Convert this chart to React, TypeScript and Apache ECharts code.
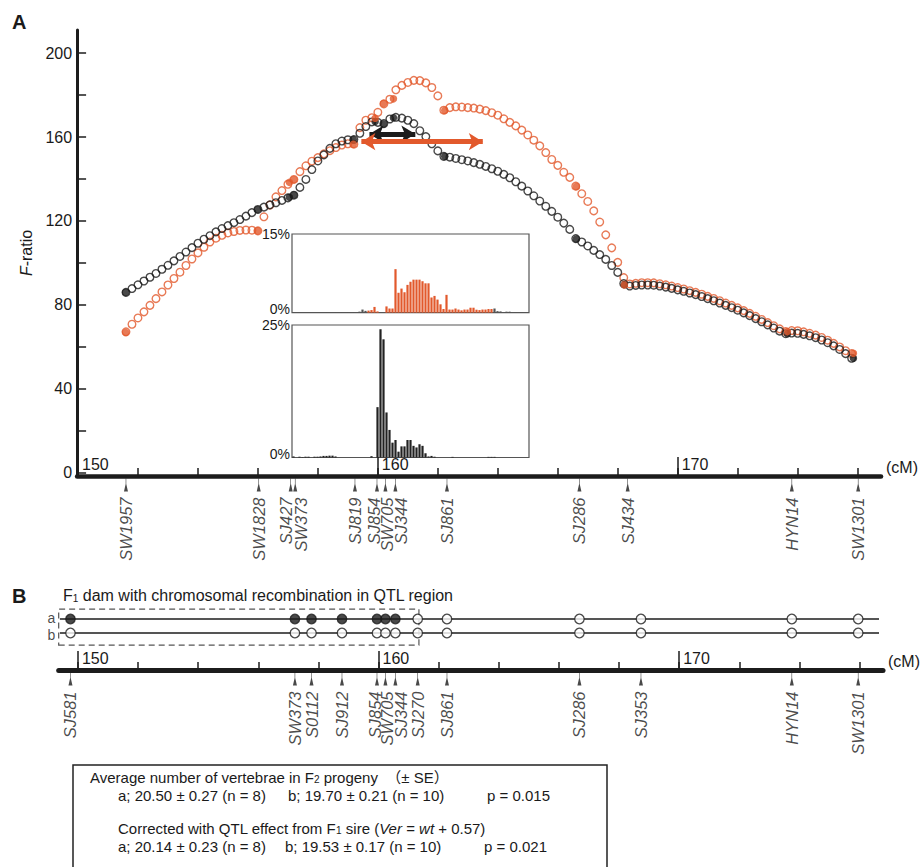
import React, { useEffect, useRef } from "react";
import * as echarts from "echarts";

// ---------- DATA ----------
// Panel A: F-ratio profile (cM position of each tested locus)
const lociCM = [
  151.6, 151.8, 152.0, 152.2, 152.4, 152.6, 152.8, 153.0, 153.2, 153.4, 153.6, 153.8, 154.0, 154.2, 154.4, 154.6,
  154.8, 155.0, 155.2, 155.4, 155.6, 155.8, 156.0, 156.2, 156.4, 156.6, 156.8, 157.0, 157.2, 157.4, 157.6, 157.8,
  158.0, 158.2, 158.4, 158.6, 158.8, 159.0, 159.2, 159.4, 159.6, 159.8, 160.0, 160.2, 160.4, 160.6, 160.8, 161.0,
  161.2, 161.4, 161.6, 161.8, 162.0, 162.2, 162.4, 162.6, 162.8, 163.0, 163.2, 163.4, 163.6, 163.8, 164.0, 164.2,
  164.4, 164.6, 164.8, 165.0, 165.2, 165.4, 165.6, 165.8, 166.0, 166.2, 166.4, 166.6, 166.8, 167.0, 167.2, 167.4,
  167.6, 167.8, 168.0, 168.2, 168.4, 168.6, 168.8, 169.0, 169.2, 169.4, 169.6, 169.8, 170.0, 170.2, 170.4, 170.6,
  170.8, 171.0, 171.2, 171.4, 171.6, 171.8, 172.0, 172.2, 172.4, 172.6, 172.8, 173.0, 173.2, 173.4, 173.6, 173.8,
  174.0, 174.2, 174.4, 174.6, 174.8, 175.0, 175.2, 175.4, 175.6, 175.8,
];
const fRatioBlack = [
  86.0, 87.8, 89.6, 91.4, 93.2, 95.0, 97.0, 98.9, 101.0, 103.1, 105.2, 107.3, 109.4, 111.3, 113.0, 114.8,
  116.4, 117.8, 119.2, 120.7, 122.3, 124.0, 125.5, 126.6, 127.7, 128.7, 129.8, 131.0, 132.3, 136.0, 139.8, 144.5,
  148.6, 151.5, 154.6, 156.8, 158.1, 158.7, 158.8, 161.8, 165.0, 167.2, 167.0, 166.4, 168.6, 169.4, 169.0, 168.0,
  166.4, 163.0, 160.2, 156.8, 153.4, 150.8, 150.4, 149.8, 149.2, 148.6, 147.8, 147.0, 146.0, 144.9, 143.7, 142.2,
  140.6, 138.7, 136.6, 134.3, 132.0, 129.5, 127.0, 124.6, 121.8, 119.0, 116.0, 111.6, 110.0, 108.1, 106.0, 104.0,
  101.7, 98.8, 95.5, 90.2, 89.0, 89.3, 89.5, 89.5, 89.4, 89.0, 88.5, 87.9, 87.2, 86.5, 85.7, 84.9,
  84.0, 83.0, 82.0, 80.9, 79.8, 78.7, 77.5, 76.2, 74.9, 73.5, 72.0, 70.5, 69.0, 67.5, 66.3, 66.6,
  66.5, 66.0, 65.3, 64.4, 63.3, 62.0, 60.5, 58.8, 56.8, 54.6,
];
const fRatioOrange = [
  67.2, 70.8, 73.8, 76.7, 79.8, 83.0, 86.2, 89.5, 92.6, 95.6, 98.8, 101.9, 104.8, 107.5, 110.0, 111.8,
  113.2, 114.3, 115.0, 115.5, 115.7, 115.6, 115.3, 122.0, 127.6, 131.5, 134.5, 137.5, 139.8, 143.5, 146.3, 148.5,
  150.2, 152.0, 153.5, 155.0, 156.2, 156.8, 156.6, 164.5, 168.0, 169.2, 171.8, 175.8, 178.0, 182.5, 184.6, 186.0,
  187.0, 186.9, 185.8, 183.6, 179.6, 172.8, 174.0, 174.4, 174.3, 174.0, 173.8, 173.3, 172.6, 171.6, 170.4, 168.7,
  167.0, 165.3, 163.3, 161.0, 158.5, 155.8, 152.6, 149.3, 146.5, 143.2, 140.8, 136.6, 133.0, 129.3, 124.8, 119.5,
  113.4, 107.2, 100.3, 93.0, 90.0, 90.3, 90.6, 90.6, 90.5, 90.1, 89.6, 89.0, 88.3, 87.6, 86.8, 86.0,
  85.1, 84.1, 83.1, 82.0, 80.9, 79.8, 78.6, 77.3, 76.0, 74.6, 73.1, 71.6, 70.1, 68.6, 67.3, 67.8,
  67.7, 67.2, 66.5, 65.6, 64.5, 63.2, 61.7, 60.0, 58.2, 56.8,
];

// Panel A markers
const markerNamesA = ["SW1957", "SW1828", "SJ427", "SW373", "SJ819", "SJ854", "SW705", "SJ344", "SJ861", "SJ286", "SJ434", "HYN14", "SW1301"];
const markerCMA = [151.59, 155.99, 157.05, 157.2, 159.18, 159.91, 160.19, 160.52, 162.23, 166.62, 168.22, 173.66, 175.86];
const markerFBlack = [86.0, 125.5, 131.3, 132.4, 158.8, 167.4, 166.2, 169.2, 150.8, 111.4, 89.6, 66.3, 54.6];
const markerFOrange = [66.9, 115.3, 138.4, 139.8, 156.6, 169.0, 176.0, 178.2, 172.7, 136.4, 89.5, 67.3, 57.0];

// Confidence intervals (double arrows)
const ciBlackCM = [159.72, 161.25];
const ciBlackF = 161.4;
const ciOrangeCM = [159.45, 163.5];
const ciOrangeF = 157.8;

// Inset histograms (% of bootstrap peaks per 0.1 cM bin)
const histTopCM = [159.59, 159.69, 159.79, 159.89, 160.19, 160.29, 160.39, 160.49, 160.59, 160.69, 160.79, 160.89, 160.99, 161.09, 161.19, 161.29, 161.39, 161.49, 161.59, 161.69, 161.79, 161.89, 161.99, 162.09, 162.19, 162.29, 162.39, 162.49, 162.59, 162.69, 162.79, 162.89, 162.99, 163.09, 163.19, 163.29, 163.39, 163.49, 163.59, 163.69];
const histTopPct = [0.4, 0.5, 1.1, 0.25, 1.2, 0.8, 0.8, 8.3, 3.8, 4.6, 3.9, 5.3, 5.9, 6.3, 6.3, 6.3, 6.0, 5.6, 5.6, 2.9, 3.2, 2.5, 1.6, 0.7, 3.4, 0.6, 0.6, 0.8, 0.6, 0.45, 0.6, 0.6, 0.95, 0.95, 0.57, 0.5, 0.6, 0.6, 0.7, 0.7];
const histTopGrayCM = [158.19, 158.49, 158.69, 158.89, 159.09, 159.29, 159.39, 159.49, 163.79, 163.89, 163.99, 164.19, 164.29, 164.49, 164.69];
const histTopGrayPct = [0.12, 0.12, 0.12, 0.12, 0.12, 0.2, 0.6, 0.35, 0.8, 0.3, 0.25, 0.2, 0.2, 0.1, 0.08];
const histBotCM = [157.09, 157.29, 157.39, 157.49, 157.59, 157.79, 157.89, 157.99, 158.09, 158.19, 158.29, 158.39, 158.49, 159.69, 159.89, 159.99, 160.09, 160.19, 160.29, 160.39, 160.49, 160.59, 160.69, 160.79, 160.89, 160.99, 161.09, 161.19, 161.29, 161.39, 161.49, 161.59, 161.69, 161.79, 162.39, 163.59, 163.69, 163.79];
const histBotPct = [0.2, 0.15, 0.1, 0.15, 0.15, 0.15, 0.15, 0.2, 0.3, 0.3, 0.35, 0.35, 0.2, 0.25, 9.5, 24.2, 22.3, 8.5, 5.2, 2.8, 3.3, 1.1, 2.1, 2.1, 3.3, 3.3, 2.2, 1.9, 2.5, 2.2, 0.8, 0.2, 0.3, 0.15, 0.12, 0.12, 0.12, 0.12];

// Panel B markers and F1 dam haplotypes (1 = filled allele)
const markerNamesB = ["SJ581", "SW373", "S0112", "SJ912", "SJ854", "SW705", "SJ344", "SJ270", "SJ861", "SJ286", "SJ353", "HYN14", "SW1301"];
const markerCMB = [149.75, 157.19, 157.74, 158.75, 159.91, 160.19, 160.52, 161.26, 162.23, 166.62, 168.66, 173.66, 175.86];
const alleleA = [1, 1, 1, 1, 1, 1, 1, 0, 0, 0, 0, 0, 0];
const alleleB = [0, 0, 0, 0, 0, 0, 0, 0, 0, 0, 0, 0, 0];
const chromNames = ["a", "b"];
const chromExtentCM = [149.4, 176.55];
const qtlBoxCM = [149.36, 161.3];

// Axis ticks
const xMinorTicks = [150, 152, 154, 156, 158, 160, 162, 164, 166, 168, 170, 172, 174, 176];
const xMajorTicks = [150, 160, 170];
const yTicks = [0, 20, 40, 60, 80, 100, 120, 140, 160, 180, 200];
const yLabels = [0, 40, 80, 120, 160, 200];

// Statistics box text
const statsTitle = "Average number of vertebrae in F{s|2} progeny  （± SE）";
const statsRow1 = ["a; 20.50 ± 0.27 (n = 8)", "b; 19.70 ± 0.21 (n = 10)", "p = 0.015"];
const statsCorr = "Corrected with QTL effect from F{s|1} sire ({i|Ver} = {i|wt} + 0.57)";
const statsRow2 = ["a; 20.14 ± 0.23 (n = 8)", "b; 19.53 ± 0.17 (n = 10)", "p = 0.021"];

// ---------- STYLE ----------
const FONT = '"Liberation Sans", Arial, Helvetica, "Noto Sans CJK SC", sans-serif';
const ORANGE = "#E2592C";
const BLACK = "#1c1c1c";
const TXT = "#1a1a1a";
const PX_PER_CM = 30.17;
const X0 = 78; // pixel of 150 cM
const cmLeft = (cm: number) => X0 + (cm - 150) * PX_PER_CM;
const rangeA = [149.97, 176.78];
const rangeB = [149.36, 176.78];
const rangeInset = [157.04, 164.94];
const labelNudgeA: Record<string, number> = { SJ427: -5, SW373: 6, SJ854: -3, SW705: 2, SJ344: 6 };
const labelNudgeB: Record<string, number> = { SJ854: -2, SW705: 2, SJ344: 6 };
const markerSymbol = "path://M1.7,0 L2.3,0 L2.3,6 L4,14 L0,14 L1.7,6 Z";

function gridFor(range: number[], top: number, height: number, extra: any = {}) {
  return { left: cmLeft(range[0]), width: (range[1] - range[0]) * PX_PER_CM, top, height, ...extra };
}

export default function App() {
  const ref = useRef<HTMLDivElement>(null);
  useEffect(() => {
    document.body.style.margin = "0";
    if (!ref.current) return;
    const chart = echarts.init(ref.current, undefined, { renderer: "svg" });

    const hiddenX = (gridIndex: number, range: number[]) => ({
      type: "value", gridIndex, min: range[0], max: range[1], show: false,
    });
    const hiddenY = (gridIndex: number, min: number, max: number) => ({
      type: "value", gridIndex, min, max, show: false,
    });
    const mainAxisX = (gridIndex: number, range: number[], width: number) => ({
      type: "value", gridIndex, min: range[0], max: range[1], position: "bottom",
      axisLine: { show: true, onZero: false, lineStyle: { color: BLACK, width } },
      axisTick: { show: true, inside: true, length: 8, customValues: xMinorTicks, lineStyle: { color: BLACK, width: 1.5 } },
      axisLabel: { show: false },
      splitLine: { show: false },
      name: "(cM)", nameLocation: "end", nameGap: 5,
      nameTextStyle: { fontSize: 16, fontFamily: FONT, color: TXT, verticalAlign: "bottom", padding: [0, 0, 1, 0] },
    });
    const majorAxisX = (gridIndex: number, range: number[]) => ({
      type: "value", gridIndex, min: range[0], max: range[1], position: "bottom",
      axisLine: { show: false, onZero: false },
      axisTick: { show: true, inside: true, length: 19, customValues: xMajorTicks, lineStyle: { color: BLACK, width: 1.5 } },
      axisLabel: {
        show: true, inside: true, customValues: xMajorTicks, align: "left", verticalAlign: "bottom",
        margin: 4, padding: [0, 0, 0, 4], fontSize: 16, fontFamily: FONT, color: TXT,
      },
      splitLine: { show: false },
    });
    const markerRow = (xi: number, yi: number, names: string[], cms: number[], nudge: Record<string, number>) => ({
      type: "scatter", xAxisIndex: xi, yAxisIndex: yi, silent: true,
      symbol: markerSymbol, symbolSize: [4, 13],
      itemStyle: { color: BLACK },
      data: cms.map((c, i) => ({
        name: names[i], value: [c, 0.5],
        label: { offset: [0, nudge[names[i]] || 0] },
      })),
      label: {
        show: true, formatter: "{b}", position: "bottom", distance: 6, rotate: 90,
        align: "right", verticalAlign: "middle",
        fontSize: 16.5, fontStyle: "italic", fontFamily: FONT, color: TXT,
      },
    });
    const openCircles = (cms: number[], vals: number[], color: string, z: number, ci: number[], ciF: number) => ({
      type: "scatter", xAxisIndex: 0, yAxisIndex: 0, silent: true, z,
      symbol: "circle", symbolSize: 7.6,
      itemStyle: { color: "rgba(255,255,255,0)", borderColor: color, borderWidth: 1.4 },
      data: cms.map((c, i) => [c, vals[i]]),
      markLine: {
        silent: true, animation: false,
        symbol: ["arrow", "arrow"], symbolSize: [13, 14],
        label: { show: false },
        lineStyle: { color, width: 5, type: "solid" },
        emphasis: { disabled: true },
        data: [[{ coord: [ci[0], ciF] }, { coord: [ci[1], ciF] }]],
      },
    });
    const filledDots = (vals: number[], color: string) => ({
      type: "scatter", xAxisIndex: 0, yAxisIndex: 0, silent: true, z: 5,
      symbol: "circle", symbolSize: 7.5, itemStyle: { color },
      data: markerCMA.map((c, i) => [c, vals[i]]),
    });
    const alleleDots = (flags: number[], yv: number) => ({
      type: "scatter", xAxisIndex: 5, yAxisIndex: 4, silent: true, z: 5,
      symbol: "circle", symbolSize: 9.5,
      itemStyle: { borderColor: BLACK, borderWidth: 1.3 },
      data: markerCMB.map((c, i) => ({ value: [c, yv], itemStyle: { color: flags[i] ? BLACK : "#ffffff" } })),
    });
    const chromLine = (yv: number, withBox: boolean) => ({
      type: "line", xAxisIndex: 5, yAxisIndex: 4, silent: true, symbol: "none",
      lineStyle: { color: BLACK, width: 1.6 },
      data: [[chromExtentCM[0], yv], [chromExtentCM[1], yv]],
      ...(withBox
        ? {
            markArea: {
              silent: true,
              itemStyle: { color: "rgba(0,0,0,0)", borderColor: "#555", borderWidth: 1.2, borderType: [6, 4] },
              data: [[{ coord: [qtlBoxCM[0], 0.14] }, { coord: [qtlBoxCM[1], 2.71] }]],
            },
          }
        : {}),
    });
    const chromLabels = {
      type: "scatter", xAxisIndex: 5, yAxisIndex: 4, silent: true, z: 6,
      symbol: "circle", symbolSize: 1, itemStyle: { color: "rgba(0,0,0,0)" },
      data: chromNames.map((n, i) => ({ name: n, value: [chromExtentCM[0], 2 - i], label: { offset: [0, i ? 1.5 : -1.5] } })),
      label: {
        show: true, formatter: "{b}", position: "left", distance: 4,
        fontSize: 14, lineHeight: 12, fontFamily: FONT, color: TXT,
      },
    };
    const insetY = (gridIndex: number, max: number) => ({
      type: "value", gridIndex, min: 0, max,
      axisLine: { show: false }, axisTick: { show: false }, splitLine: { show: false },
      axisLabel: {
        customValues: [0, max],
        formatter: (v: number) => (v === 0 ? "{lo|0%}" : "{hi|" + v + "%}"),
        margin: 2,
        rich: {
          lo: { fontSize: 14, fontFamily: FONT, color: TXT, padding: [0, 0, 7, 0] },
          hi: { fontSize: 14, fontFamily: FONT, color: TXT },
        },
      },
    });
    const bars = (xi: number, yi: number, cms: number[], vals: number[], color: string) => ({
      type: "bar", xAxisIndex: xi, yAxisIndex: yi, silent: true, barWidth: 2.2, barGap: "-100%",
      itemStyle: { color },
      data: cms.map((c, i) => [c, vals[i]]),
    });

    const SZ = 15;
    const sub = { fontSize: 10, fontFamily: FONT, fill: TXT, verticalAlign: "bottom", lineHeight: 10, padding: [8, 0, 0, 0] };
    const txt = (x: number, y: number, text: string, size = SZ, extra: any = {}) => ({
      type: "text", x, y, silent: true,
      style: {
        text, fontSize: size, fontFamily: FONT, fill: TXT, textVerticalAlign: "middle", verticalAlign: "middle",
        rich: { s: sub, i: { fontSize: size, fontFamily: FONT, fill: TXT, fontStyle: "italic" } }, ...extra,
      },
    });
    const statCols = [118, 288, 487];

    const option: any = {
      animation: false,
      backgroundColor: "#ffffff",
      textStyle: { fontFamily: FONT },
      grid: [
        gridFor(rangeA, 30, 446),
        gridFor(rangeA, 478, 14),
        { left: 292, top: 234, width: 237, height: 78.7, show: true, borderColor: "#555", borderWidth: 1.2, backgroundColor: "rgba(0,0,0,0)" },
        { left: 292, top: 325, width: 237, height: 132.5, show: true, borderColor: "#555", borderWidth: 1.2, backgroundColor: "rgba(0,0,0,0)" },
        gridFor(rangeB, 591, 56),
        gridFor(rangeB, 600, 70),
        gridFor(rangeB, 672, 14),
      ],
      xAxis: [
        mainAxisX(0, rangeA, 4.5),
        majorAxisX(0, rangeA),
        hiddenX(1, rangeA),
        hiddenX(2, rangeInset),
        hiddenX(3, rangeInset),
        hiddenX(4, rangeB),
        mainAxisX(5, rangeB, 5),
        majorAxisX(5, rangeB),
        hiddenX(6, rangeB),
      ],
      yAxis: [
        {
          type: "value", gridIndex: 0, min: -1.5, max: 211,
          axisLine: { show: true, onZero: false, lineStyle: { color: BLACK, width: 3 } },
          axisTick: { show: true, inside: true, length: 9, customValues: yTicks, lineStyle: { color: BLACK, width: 1.5 } },
          axisLabel: { customValues: yLabels, fontSize: 16, fontFamily: FONT, color: TXT, margin: 5 },
          splitLine: { show: false },
          name: "{i|F}-ratio", nameLocation: "middle", nameGap: 40, nameRotate: 90,
          nameTextStyle: {
            fontSize: 16, fontFamily: FONT, color: TXT,
            rich: { i: { fontSize: 16, fontFamily: FONT, color: TXT, fontStyle: "italic" } },
          },
        },
        hiddenY(1, 0, 1),
        insetY(2, 15),
        insetY(3, 25),
        hiddenY(4, 0, 4),
        hiddenY(5, 0, 1),
        hiddenY(6, 0, 1),
      ],
      series: [
        openCircles(lociCM, fRatioBlack, BLACK, 3, ciBlackCM, ciBlackF),
        openCircles(lociCM, fRatioOrange, ORANGE, 2, ciOrangeCM, ciOrangeF),
        filledDots(markerFBlack, BLACK),
        filledDots(markerFOrange, ORANGE),
        markerRow(2, 1, markerNamesA, markerCMA, labelNudgeA),
        bars(3, 2, histTopCM, histTopPct, ORANGE),
        bars(3, 2, histTopGrayCM, histTopGrayPct, "#555"),
        bars(4, 3, histBotCM, histBotPct, "#222"),
        chromLine(2, true),
        chromLine(1, false),
        chromLabels,
        alleleDots(alleleA, 2),
        alleleDots(alleleB, 1),
        markerRow(8, 6, markerNamesB, markerCMB, labelNudgeB),
      ],
      graphic: [
        txt(12, 22, "A", 20, { fontWeight: "bold" }),
        txt(12, 596, "B", 20, { fontWeight: "bold" }),
        txt(63, 595, "F{s|1} dam with chromosomal recombination in QTL region", 16),
        {
          type: "rect", silent: true,
          shape: { x: 73, y: 765, width: 534, height: 120 },
          style: { fill: "rgba(0,0,0,0)", stroke: "#222", lineWidth: 1.5 },
        },
        txt(90, 777, statsTitle),
        ...statsRow1.map((t, i) => txt(statCols[i], 795, t)),
        txt(118, 828, statsCorr),
        ...statsRow2.map((t, i) => txt(statCols[i] - (i ? 3 : 0), 846, t)),
      ],
    };
    chart.setOption(option);
    return () => chart.dispose();
  }, []);
  return <div ref={ref} style={{ width: 921, height: 867 }} />;
}
